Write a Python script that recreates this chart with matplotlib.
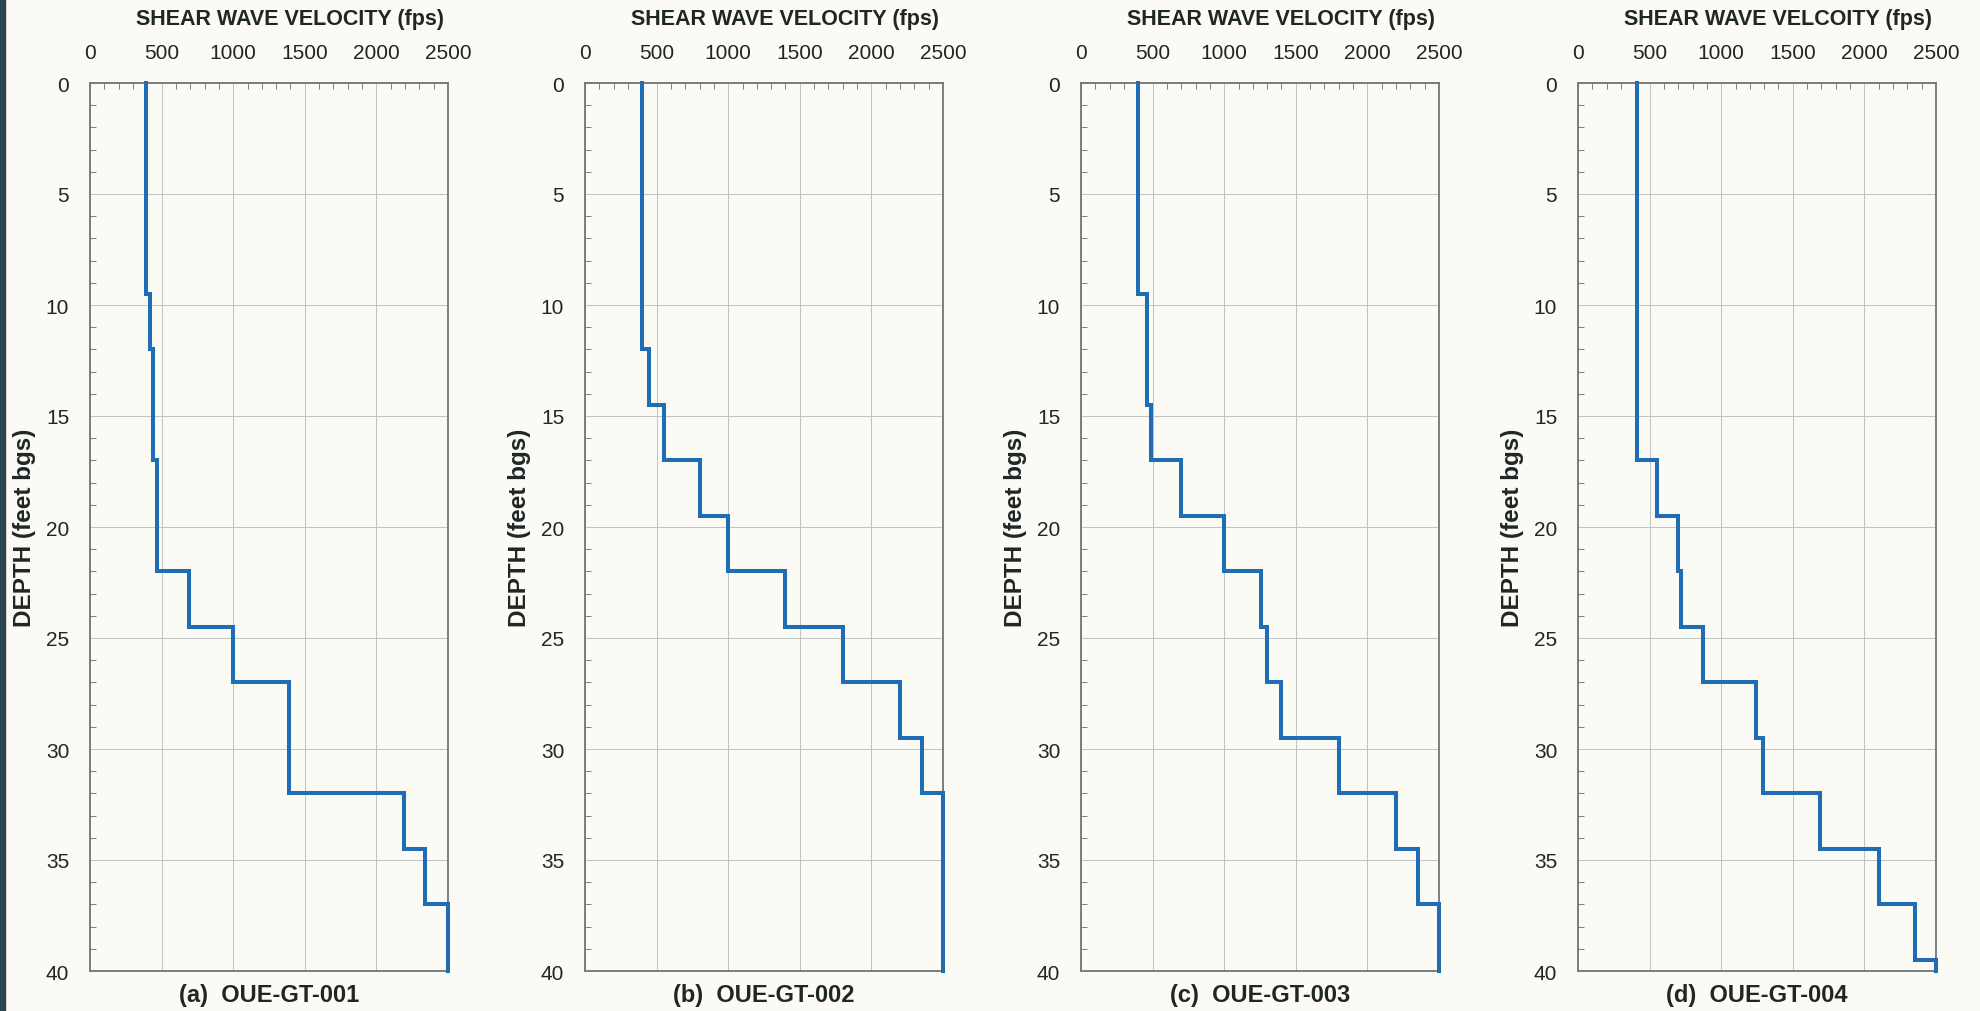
import numpy as np
import matplotlib.pyplot as plt
from matplotlib.patches import Rectangle
from matplotlib.ticker import MultipleLocator

plt.rcParams["font.family"] = ["Liberation Sans", "DejaVu Sans"]

BOTTOM_DEPTH = 40

# layer tops (ft bgs) and shear wave velocity (fps) for each boring
tops_001 = [0, 9.5, 12, 17, 22, 24.5, 27, 32, 34.5, 37]
vs_001 = [390, 420, 440, 470, 690, 1000, 1390, 2190, 2340, 2500]

tops_002 = [0, 12, 14.5, 17, 19.5, 22, 24.5, 27, 29.5, 32]
vs_002 = [400, 450, 550, 800, 1000, 1400, 1800, 2200, 2350, 2500]

tops_003 = [0, 9.5, 14.5, 17, 19.5, 22, 24.5, 27, 29.5, 32, 34.5, 37]
vs_003 = [400, 460, 490, 700, 1000, 1260, 1300, 1400, 1800, 2200, 2350, 2500]

tops_004 = [0, 17, 19.5, 22, 24.5, 27, 29.5, 32, 34.5, 37, 39.5]
vs_004 = [410, 550, 700, 720, 870, 1240, 1290, 1690, 2100, 2350, 2500]

profiles = [
    (tops_001, vs_001, "SHEAR WAVE VELOCITY (fps)", "(a)  OUE-GT-001"),
    (tops_002, vs_002, "SHEAR WAVE VELOCITY (fps)", "(b)  OUE-GT-002"),
    (tops_003, vs_003, "SHEAR WAVE VELOCITY (fps)", "(c)  OUE-GT-003"),
    (tops_004, vs_004, "SHEAR WAVE VELCOITY (fps)", "(d)  OUE-GT-004"),
]

lefts_px = [90, 585, 1081, 1578]
W, H = 1980, 1012
TXT = "#1e2626"
PAPER = "#fbfaf4"


def step_profile(tops, vs):
    bottoms = list(tops[1:]) + [BOTTOM_DEPTH]
    x = np.repeat(vs, 2)
    y = np.column_stack([tops, bottoms]).ravel()
    return x, y


fig = plt.figure(figsize=(W / 100, H / 100), dpi=100, facecolor=PAPER)
fig.patches.append(Rectangle((0, 0), 5 / W, 1, transform=fig.transFigure,
                             color="#2b4650", zorder=0))

for left, (tops, vs, xlab, cap) in zip(lefts_px, profiles):
    ax = fig.add_axes([left / W, 1 - 972 / H, 358 / W, 888 / H])
    ax.set_facecolor(PAPER)
    x, y = step_profile(tops, vs)
    ax.plot(x, y, color="#1f6db4", lw=2.9, solid_joinstyle="miter", zorder=3,
            clip_on=False)

    ax.set_xlim(0, 2500)
    ax.set_ylim(BOTTOM_DEPTH, 0)
    ax.xaxis.set_major_locator(MultipleLocator(500))
    ax.xaxis.set_minor_locator(MultipleLocator(100))
    ax.yaxis.set_major_locator(MultipleLocator(5))
    ax.yaxis.set_minor_locator(MultipleLocator(1))
    ax.xaxis.tick_top()
    ax.xaxis.set_label_position("top")

    ax.tick_params(which="both", direction="in", colors="#7a8080",
                   labelcolor=TXT, labelsize=15)
    ax.tick_params(which="major", length=0)
    ax.tick_params(which="minor", length=4, width=0.7)
    ax.tick_params(axis="x", which="major", pad=15)
    ax.tick_params(axis="y", which="major", pad=15)

    ax.grid(True, which="major", color="#bfc3c3", lw=0.7)
    for s in ax.spines.values():
        s.set_color("#6f7676")
        s.set_linewidth(1.3)

    ax.set_xlabel(xlab, fontsize=15.5, fontweight="bold", color=TXT)
    ax.xaxis.set_label_coords(0.56, 1.066)
    ax.set_ylabel("DEPTH (feet bgs)", fontsize=17.5, fontweight="bold", color=TXT)
    ax.yaxis.set_label_coords(-0.151, 0.5)

    ax.text(0.5, -0.013, cap, transform=ax.transAxes, ha="center", va="top",
            fontsize=17, fontweight="bold", color=TXT)

fig.savefig("out.png", dpi=100, facecolor=PAPER)
